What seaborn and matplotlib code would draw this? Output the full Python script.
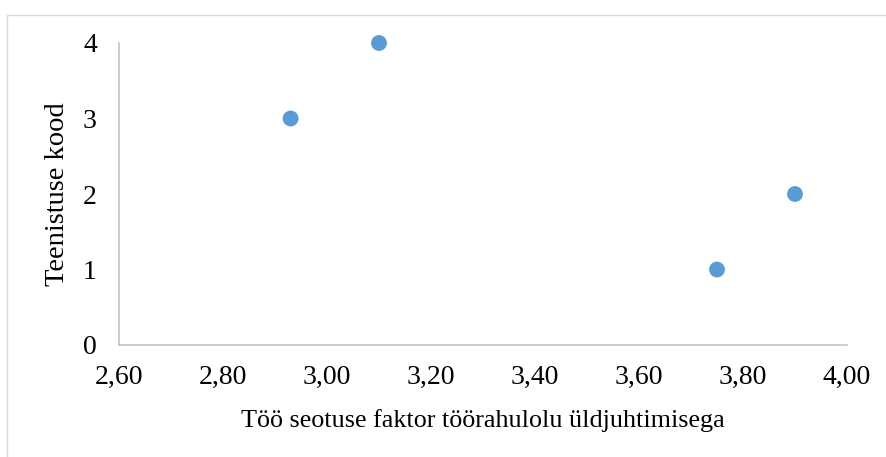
import matplotlib
matplotlib.use("Agg")
import matplotlib.pyplot as plt
import seaborn as sns
import pandas as pd
from matplotlib.patches import Rectangle
from matplotlib.ticker import FuncFormatter

x_values = [2.93, 3.10, 3.75, 3.90]
y_values = [3, 4, 1, 2]
x_ticks = [2.6, 2.8, 3.0, 3.2, 3.4, 3.6, 3.8, 4.0]
y_ticks = [0, 1, 2, 3, 4]
x_label = "Töö seotuse faktor töörahulolu üldjuhtimisega"
y_label = "Teenistuse kood"

sns.set_theme(style="white")
plt.rcParams['font.family'] = ['Liberation Serif', 'DejaVu Serif']

df = pd.DataFrame({"x": x_values, "y": y_values})

fig = plt.figure(figsize=(8.87, 4.57), dpi=100)
fig.patches.append(Rectangle((7/887, -0.1), 1.1, 1 - 15/457 + 0.1,
                             transform=fig.transFigure, fill=False,
                             edgecolor="#D9D9D9", linewidth=1.0))
ax = fig.add_axes([119/887, 1 - 345/457, 728/887, 302/457])

sns.scatterplot(data=df, x="x", y="y", ax=ax, color="#5B9BD5", s=130,
                edgecolor="none", clip_on=False, zorder=3)

ax.set_xlim(2.6, 4.0)
ax.set_ylim(0, 4)
ax.set_xticks(x_ticks)
ax.set_yticks(y_ticks)
ax.xaxis.set_major_formatter(FuncFormatter(lambda v, p: f"{v:.2f}".replace(".", ",")))
ax.tick_params(axis="both", length=0, labelsize=20, colors="black")
ax.tick_params(axis="x", pad=14)
ax.tick_params(axis="y", pad=16)

for s in ["top", "right"]:
    ax.spines[s].set_visible(False)
for s in ["left", "bottom"]:
    ax.spines[s].set_color("#BFBFBF")
    ax.spines[s].set_linewidth(1.1)

ax.set_xlabel(x_label, fontsize=18.8, color="black", labelpad=14)
ax.set_ylabel(y_label, fontsize=20.5, color="black", labelpad=9)
ax.grid(False)

fig.savefig("out.png", dpi=100)
